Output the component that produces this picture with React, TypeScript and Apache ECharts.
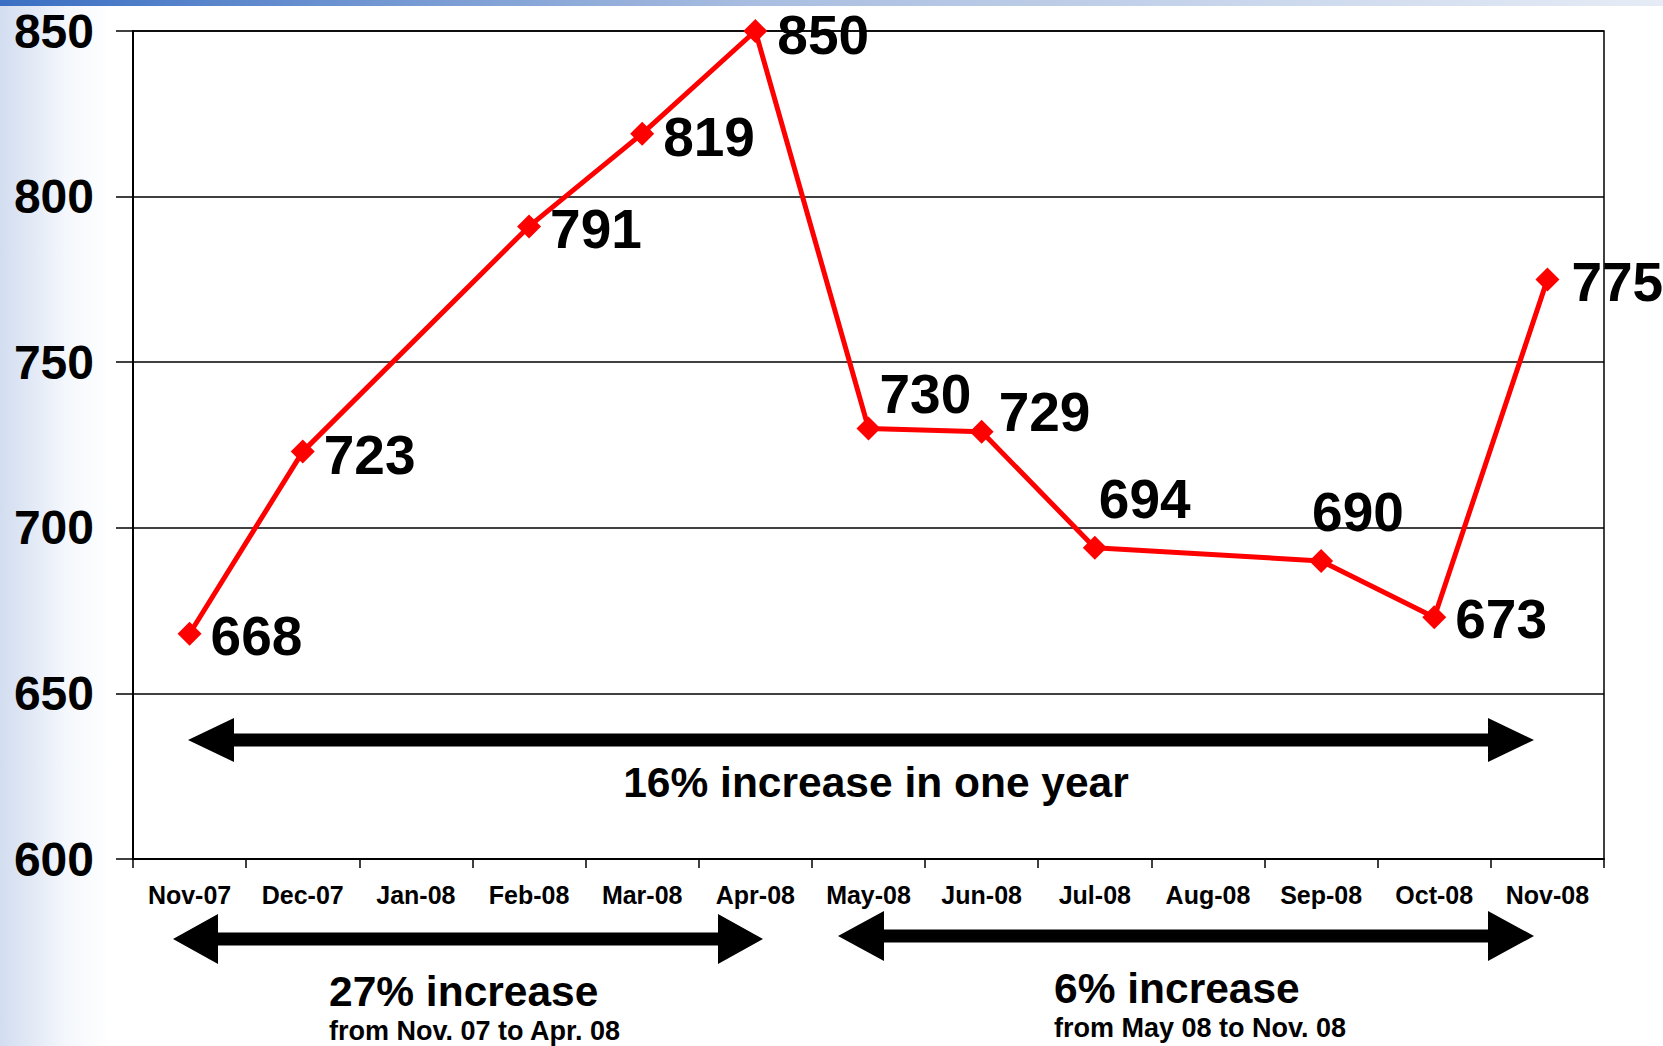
import React, { useEffect, useRef } from "react";
import * as echarts from "echarts";

const categories = [
  "Nov-07", "Dec-07", "Jan-08", "Feb-08", "Mar-08", "Apr-08", "May-08",
  "Jun-08", "Jul-08", "Aug-08", "Sep-08", "Oct-08", "Nov-08",
];
const values: (number | null)[] = [668, 723, null, 791, 819, 850, 730, 729, 694, null, 690, 673, 775];
const yTicks = { min: 600, max: 850, interval: 50 };

const annotationMain = "16% increase in one year";
const annotationLeft = "27% increase";
const annotationLeftSub = "from Nov. 07 to Apr. 08";
const annotationRight = "6% increase";
const annotationRightSub = "from May 08 to Nov. 08";

// label placement tweaks (style only)
const labelOffsets: Record<string, [number, number]> = {
  "Nov-07": [-1, 2],
  "Dec-07": [-1, 3],
  "Feb-08": [-1, 3],
  "Mar-08": [-1, 3],
  "Apr-08": [0, 4],
  "May-08": [-11, -34],
  "Jun-08": [-5, -20],
  "Jul-08": [-18, -49],
  "Sep-08": [-31, -49],
  "Oct-08": [-1, 2],
  "Nov-08": [2, 3],
};

const FONT = "'Liberation Sans', Arial, Helvetica, sans-serif";

function doubleArrow(x1: number, x2: number, y: number, head: number, half: number, shaft: number) {
  return [
    [x1, y],
    [x1 + head, y - half],
    [x1 + head, y - shaft],
    [x2 - head, y - shaft],
    [x2 - head, y - half],
    [x2, y],
    [x2 - head, y + half],
    [x2 - head, y + shaft],
    [x1 + head, y + shaft],
    [x1 + head, y + half],
  ];
}

export default function App() {
  const ref = useRef<HTMLDivElement>(null);
  useEffect(() => {
    if (!ref.current) return;
    const chart = echarts.init(ref.current, undefined, { renderer: "svg" });
    const data = values.map((v, i) => ({
      value: v,
      label: { offset: labelOffsets[categories[i]] || [0, 0] },
    }));
    chart.setOption({
      animation: false,
      backgroundColor: "#ffffff",
      grid: {
        left: 133,
        top: 31,
        width: 1471,
        height: 828,
        show: true,
        borderColor: "#000",
        borderWidth: 1.5,
        containLabel: false,
      },
      xAxis: {
        type: "category",
        data: categories,
        boundaryGap: true,
        axisLine: { show: true, lineStyle: { color: "#000", width: 2 } },
        axisTick: { show: true, length: 9, lineStyle: { color: "#000", width: 1.5 } },
        axisLabel: {
          color: "#000",
          fontFamily: FONT,
          fontWeight: "bold",
          fontSize: 25,
          margin: 23,
          interval: 0,
        },
        splitLine: { show: false },
      },
      yAxis: {
        type: "value",
        min: yTicks.min,
        max: yTicks.max,
        interval: yTicks.interval,
        axisLine: { show: true, lineStyle: { color: "#000", width: 2 } },
        axisTick: { show: true, length: 17, lineStyle: { color: "#000", width: 1.5 } },
        axisLabel: {
          color: "#000",
          fontFamily: FONT,
          fontWeight: "bold",
          fontSize: 48,
          margin: 39,
        },
        splitLine: { show: true, lineStyle: { color: "#000", width: 1.5 } },
      },
      series: [
        {
          type: "line",
          data,
          connectNulls: true,
          symbol: "diamond",
          symbolSize: 24,
          lineStyle: { color: "#ff0000", width: 5 },
          itemStyle: { color: "#ff0000" },
          label: {
            show: true,
            position: "right",
            distance: 10,
            color: "#000",
            fontFamily: FONT,
            fontWeight: "bold",
            fontSize: 55,
          },
          z: 3,
        },
      ],
      graphic: [
        {
          type: "rect",
          z: -10,
          silent: true,
          shape: { x: 0, y: 0, width: 110, height: 1046 },
          style: {
            fill: new echarts.graphic.LinearGradient(0, 0, 1, 0, [
              { offset: 0, color: "#d2ddf0" },
              { offset: 0.6, color: "#f4f7fc" },
              { offset: 1, color: "#ffffff" },
            ]),
          },
        },
        {
          type: "rect",
          z: -9,
          silent: true,
          shape: { x: 0, y: 0, width: 1663, height: 6 },
          style: {
            fill: new echarts.graphic.LinearGradient(0, 0, 1, 0, [
              { offset: 0, color: "#3a6fc3" },
              { offset: 0.45, color: "#a8bde0" },
              { offset: 1, color: "#e6ecf6" },
            ]),
          },
        },
        {
          type: "polygon",
          silent: true,
          shape: { points: doubleArrow(188, 1534, 740, 46, 22, 6.5) },
          style: { fill: "#000" },
        },
        {
          type: "text",
          silent: true,
          x: 876,
          y: 782,
          style: {
            text: annotationMain,
            fill: "#000",
            font: `bold 42.5px ${FONT}`,
            textAlign: "center",
            textVerticalAlign: "middle",
          },
        },
        {
          type: "polygon",
          silent: true,
          shape: { points: doubleArrow(173, 763, 939, 45, 25, 6.5) },
          style: { fill: "#000" },
        },
        {
          type: "polygon",
          silent: true,
          shape: { points: doubleArrow(838, 1534, 936, 46, 25, 6.5) },
          style: { fill: "#000" },
        },
        {
          type: "text",
          silent: true,
          x: 329,
          y: 991,
          style: {
            text: annotationLeft,
            fill: "#000",
            font: `bold 42.5px ${FONT}`,
            textAlign: "left",
            textVerticalAlign: "middle",
          },
        },
        {
          type: "text",
          silent: true,
          x: 329,
          y: 1031,
          style: {
            text: annotationLeftSub,
            fill: "#000",
            font: `bold 27px ${FONT}`,
            textAlign: "left",
            textVerticalAlign: "middle",
          },
        },
        {
          type: "text",
          silent: true,
          x: 1054,
          y: 988,
          style: {
            text: annotationRight,
            fill: "#000",
            font: `bold 42.5px ${FONT}`,
            textAlign: "left",
            textVerticalAlign: "middle",
          },
        },
        {
          type: "text",
          silent: true,
          x: 1054,
          y: 1028,
          style: {
            text: annotationRightSub,
            fill: "#000",
            font: `bold 27px ${FONT}`,
            textAlign: "left",
            textVerticalAlign: "middle",
          },
        },
      ],
    });
    return () => chart.dispose();
  }, []);
  return (
    <div
      ref={ref}
      style={{ position: "fixed", left: 0, top: 0, width: 1663, height: 1046, background: "#fff" }}
    />
  );
}
